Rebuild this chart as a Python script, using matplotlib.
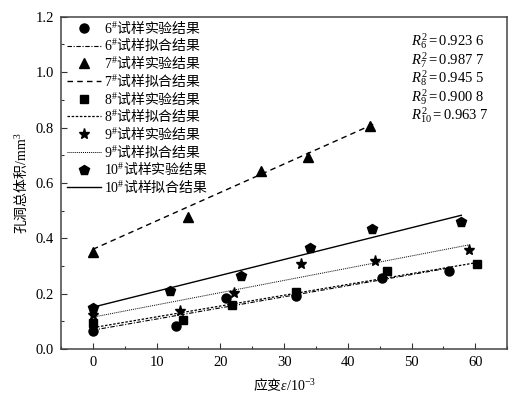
import matplotlib
matplotlib.use('Agg')
import matplotlib.pyplot as plt
from matplotlib.font_manager import FontProperties
from matplotlib.ticker import MultipleLocator

plt.rcParams['font.family'] = ['Liberation Serif', 'Noto Sans CJK SC']
plt.rcParams['mathtext.fontset'] = 'custom'
plt.rcParams['mathtext.rm'] = 'Liberation Serif'
plt.rcParams['mathtext.it'] = 'Liberation Serif:italic'
plt.rcParams['mathtext.bf'] = 'Liberation Serif:bold'

# experimental points (strain, pore volume)
x6 = [0, 13.0, 20.9, 31.9, 45.3, 55.8]
y6 = [0.066, 0.083, 0.183, 0.192, 0.258, 0.283]
x7 = [0, 15.0, 26.4, 33.7, 43.5]
y7 = [0.352, 0.478, 0.643, 0.695, 0.806]
x8 = [0, 14.1, 21.9, 31.9, 46.2, 60.2]
y8 = [0.093, 0.105, 0.158, 0.206, 0.282, 0.306]
x9 = [0, 13.7, 22.2, 32.6, 44.3, 59.0]
y9 = [0.123, 0.137, 0.201, 0.306, 0.318, 0.358]
x10 = [0, 12.1, 23.2, 34.0, 43.8, 57.8]
y10 = [0.147, 0.210, 0.265, 0.364, 0.434, 0.458]

# fitted lines (end points)
fx6, fy6 = [0, 56.0], [0.068, 0.293]
fx7, fy7 = [0, 44.0], [0.360, 0.812]
fx8, fy8 = [0, 60.2], [0.077, 0.312]
fx9, fy9 = [0, 59.0], [0.115, 0.376]
fx10, fy10 = [0, 57.8], [0.151, 0.483]

r2_labels = ['6', '7', '8', '9', '10']
r2_values = ['0.923\\ 6', '0.987\\ 7', '0.945\\ 5', '0.900\\ 8', '0.963\\ 7']

cjk = FontProperties(family='Noto Sans CJK SC', size=10)

fig = plt.figure(figsize=(5.3, 3.95), dpi=100)
ax = fig.add_axes([0.115, 0.1165, 0.842, 0.841])

ms = 6.5
ax.plot(x6, y6, 'o', color='black', ms=ms, label=r'$\mathrm{6}^{\#}$试样实验结果')
ax.plot(fx6, fy6, color='black', lw=0.8, dashes=(4, 1.5, 1, 1.5), label=r'$\mathrm{6}^{\#}$试样拟合结果')
ax.plot(x7, y7, '^', color='black', ms=ms, label=r'$\mathrm{7}^{\#}$试样实验结果')
ax.plot(fx7, fy7, color='black', lw=1.0, dashes=(4, 3), label=r'$\mathrm{7}^{\#}$试样拟合结果')
ax.plot(x8, y8, 's', color='black', ms=5.8, label=r'$\mathrm{8}^{\#}$试样实验结果')
ax.plot(fx8, fy8, color='black', lw=0.9, dashes=(2, 1.3), label=r'$\mathrm{8}^{\#}$试样拟合结果')
ax.plot(x9, y9, '*', color='black', ms=8, label=r'$\mathrm{9}^{\#}$试样实验结果')
ax.plot(fx9, fy9, color='black', lw=0.7, dashes=(1, 1), label=r'$\mathrm{9}^{\#}$试样拟合结果')
ax.plot(x10, y10, 'p', color='black', ms=7.5, label=r'$\mathrm{10}^{\#}$试样实验结果')
ax.plot(fx10, fy10, color='black', lw=1.0, label=r'$\mathrm{10}^{\#}$试样拟合结果')

ax.set_xlim(-5, 65)
ax.set_ylim(0, 1.2)
ax.xaxis.set_minor_locator(MultipleLocator(5))
ax.yaxis.set_minor_locator(MultipleLocator(0.1))
ax.set_xticks([0, 10, 20, 30, 40, 50, 60])
ax.set_yticks([0.0, 0.2, 0.4, 0.6, 0.8, 1.0, 1.2])
ax.set_yticklabels(['0.0', '0.2', '0.4', '0.6', '0.8', '1.0', '1.2'])
ax.tick_params(which='both', direction='in', labelsize=10.5, color='#333333')
ax.tick_params(which='major', length=4, width=0.8, pad=5)
ax.tick_params(which='minor', length=2.5, width=0.8)
for s in ax.spines.values():
    s.set_color('#444444')
    s.set_linewidth(1.1)

lab_font = FontProperties(family='Noto Sans CJK SC', size=10)
ax.set_xlabel(r'应变$\mathit{\varepsilon}\mathrm{/10}^{-3}$', fontproperties=lab_font, labelpad=5)
ax.set_ylabel(r'孔洞总体积$\mathrm{/mm}^{3}$', fontproperties=lab_font, labelpad=5)

leg = ax.legend(loc='upper left', bbox_to_anchor=(0.0, 1.008), frameon=False, prop=cjk,
                handlelength=2.5, handletextpad=0.2, labelspacing=0.12,
                borderaxespad=0.2, borderpad=0.2)

for i, (k, v) in enumerate(zip(r2_labels, r2_values)):
    ax.text(0.785, 0.926 - i * 0.0555, r'$R_{%s}^{2}=\mathrm{%s}$' % (k, v),
            transform=ax.transAxes, fontsize=10.5, va='center', ha='left')

fig.savefig('out.png', dpi=100)
